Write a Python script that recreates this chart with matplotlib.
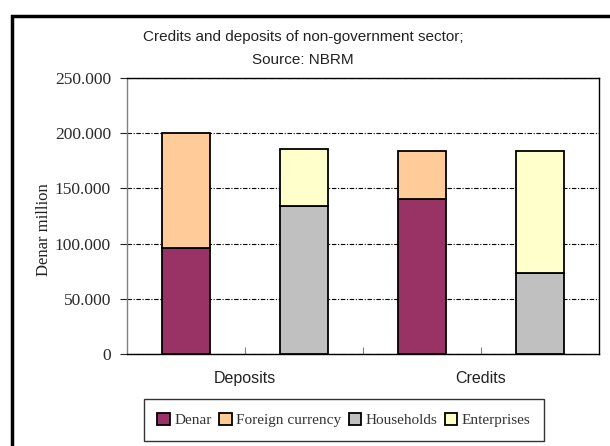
import numpy as np
import matplotlib.pyplot as plt
from matplotlib.patches import Rectangle
from matplotlib.ticker import FuncFormatter

# Credits and deposits of the non-government sector, denar million
groups = ['Deposits', 'Credits']
denar = [95700, 140700]
foreign = [104800, 43200]
households = [134000, 73100]
enterprises = [51400, 110800]

c_denar = '#993366'
c_foreign = '#FFCC99'
c_house = '#C0C0C0'
c_enter = '#FFFFCC'

plt.rcParams['font.family'] = ['Liberation Serif', 'DejaVu Serif']
sans = ['Liberation Sans', 'DejaVu Sans']

fig = plt.figure(figsize=(6.1, 4.46), dpi=100)
ax = fig.add_axes([0.208, 0.2063, 0.774, 0.6188])

# two bars per group: currency split, then sector split
pos_cur = np.array([0, 2])
pos_sec = np.array([1, 3])
w = 0.4
kw = dict(width=w, edgecolor='black', linewidth=1.3, zorder=3)
b1 = ax.bar(pos_cur, denar, color=c_denar, label='Denar', **kw)
b2 = ax.bar(pos_cur, foreign, bottom=denar, color=c_foreign, label='Foreign currency', **kw)
b3 = ax.bar(pos_sec, households, color=c_house, label='Households', **kw)
b4 = ax.bar(pos_sec, enterprises, bottom=households, color=c_enter, label='Enterprises', **kw)

ax.set_xlim(-0.5, 3.5)
ax.set_ylim(0, 250000)
ax.set_yticks(np.arange(0, 250001, 50000))
ax.yaxis.set_major_formatter(FuncFormatter(lambda v, p: f'{v:,.0f}'.replace(',', '.')))
ax.tick_params(axis='y', direction='out', length=5, width=0.8, color='#222222',
               labelsize=12.5, labelcolor='#2a2a2a', pad=6.5)
ax.yaxis.grid(True, color='black', linestyle=(0, (4, 1.5, 1, 1.5)), linewidth=0.8, zorder=0)

# category boundaries as small inward ticks
ax.set_xticks([0.5, 1.5, 2.5])
ax.set_xticklabels([])
ax.tick_params(axis='x', which='major', direction='in', length=5, width=0.8, color='#808080')

# group names under each pair of bars
for x, g in zip([0.5, 2.5], groups):
    ax.text(x, -0.09, g, transform=ax.get_xaxis_transform(), ha='center', va='center',
            fontsize=11.5, color='#222222', family=sans)

for s in ['top', 'right', 'bottom']:
    ax.spines[s].set_color('black')
    ax.spines[s].set_linewidth(1.0)
ax.spines['left'].set_color('#808080')
ax.spines['left'].set_linewidth(1.0)

ax.set_ylabel('Denar million', fontsize=12, color='#222222')
ax.yaxis.set_label_coords(-0.158, 0.45)

fig.text(0.497, 0.917, 'Credits and deposits of non-government sector;',
         ha='center', va='center', fontsize=11, color='#222222', family=sans)
fig.text(0.497, 0.866, 'Source: NBRM', ha='center', va='center', fontsize=11,
         color='#222222', family=sans)

leg = fig.legend(handles=[b1, b2, b3, b4], loc='center', ncol=4,
                 bbox_to_anchor=(0.564, 0.058), fontsize=11, frameon=True,
                 fancybox=False, edgecolor='black', handlelength=0.8,
                 handleheight=0.8, handletextpad=0.3, columnspacing=0.5,
                 borderpad=0.9, labelcolor='#333333')
leg.get_frame().set_linewidth(1.0)

# outer chart frame, clipped by the image edges
fig.patches.append(Rectangle((0.019, -0.05), 1.1, 1.015,
                             transform=fig.transFigure, fill=False,
                             edgecolor='black', linewidth=2.5))

fig.savefig('out.png', dpi=100)
